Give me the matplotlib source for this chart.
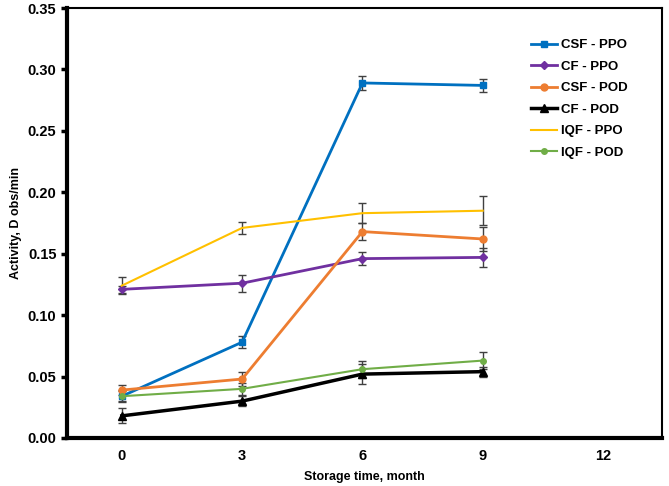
import matplotlib.pyplot as plt
import numpy as np

plt.rcParams['font.family'] = ['Liberation Sans', 'DejaVu Sans']
plt.rcParams['font.weight'] = 'bold'

# Data
months = [0, 3, 6, 9]
series_names = ['CSF - PPO', 'CF - PPO', 'CSF - POD', 'CF - POD', 'IQF - PPO', 'IQF - POD']
csf_ppo = [0.034, 0.078, 0.289, 0.287]
cf_ppo = [0.121, 0.126, 0.146, 0.147]
csf_pod = [0.039, 0.048, 0.168, 0.162]
cf_pod = [0.018, 0.030, 0.052, 0.054]
iqf_ppo = [0.124, 0.171, 0.183, 0.185]
iqf_pod = [0.034, 0.040, 0.056, 0.063]

csf_ppo_err = [0.004, 0.005, 0.006, 0.005]
cf_ppo_err = [0.003, 0.007, 0.005, 0.008]
csf_pod_err = [0.004, 0.006, 0.007, 0.010]
cf_pod_err = [0.006, 0.004, 0.008, 0.004]
iqf_ppo_err = [0.007, 0.005, 0.008, 0.012]
iqf_pod_err = [0.005, 0.005, 0.007, 0.007]

values = [csf_ppo, cf_ppo, csf_pod, cf_pod, iqf_ppo, iqf_pod]
errors = [csf_ppo_err, cf_ppo_err, csf_pod_err, cf_pod_err, iqf_ppo_err, iqf_pod_err]
colors = ['#0070C0', '#7030A0', '#ED7D31', '#000000', '#FFC000', '#70AD47']
markers = ['s', 'D', 'o', '^', None, 'o']
msizes = [4.5, 4, 5, 5.5, 0, 4]
lwidths = [2, 2, 2, 2.5, 1.5, 1.5]

fig = plt.figure(figsize=(6.69, 4.86), dpi=100)
ax = fig.add_axes([0.1, 0.0988, 0.8895, 0.8847])

for name, vals, err, c, m, ms, lw in zip(series_names, values, errors, colors, markers, msizes, lwidths):
    ax.errorbar(months, vals, yerr=err, fmt='none', ecolor='#404040',
                elinewidth=1, capsize=3, capthick=1, zorder=2)
    ax.plot(months, vals, color=c, marker=m, markersize=ms, linewidth=lw,
            label=name, zorder=3)

ax.set_xlim(-1.37, 13.47)
ax.set_ylim(0, 0.35)
ax.set_xticks([0, 3, 6, 9, 12])
ax.set_yticks(np.arange(0, 0.351, 0.05))
ax.set_yticklabels(['%.2f' % v for v in np.arange(0, 0.351, 0.05)])
ax.tick_params(axis='x', length=0, pad=8, labelsize=10.5)
ax.tick_params(axis='y', length=4, width=2.5, direction='out', labelsize=10.5)

ax.spines['left'].set_linewidth(3)
ax.spines['bottom'].set_linewidth(3)
ax.spines['top'].set_linewidth(1.5)
ax.spines['right'].set_linewidth(1.5)

ax.set_xlabel('Storage time, month', fontsize=9, fontweight='bold', labelpad=6)
ax.set_ylabel('Activity, D obs/min', fontsize=9, fontweight='bold', labelpad=4)

ax.legend(loc='upper left', bbox_to_anchor=(0.76, 0.955), frameon=False,
          fontsize=9.5, handlelength=2.0, handletextpad=0.3, labelspacing=0.7)

plt.savefig('out.png', dpi=100)
